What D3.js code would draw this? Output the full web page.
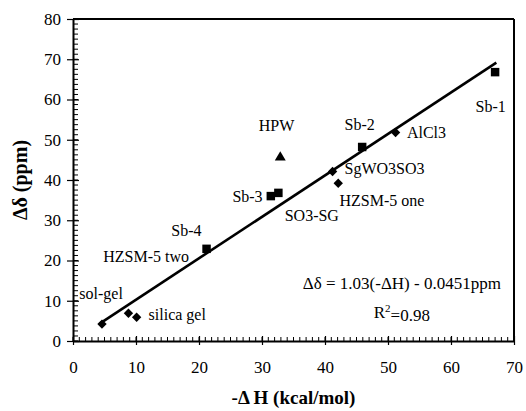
<!DOCTYPE html>
<html>
<head>
<meta charset="utf-8">
<script src="https://cdn.jsdelivr.net/npm/d3@7"></script>
<style>
  body { margin: 0; background: #fff; }
  text { font-family: "Liberation Serif", "DejaVu Serif", serif; fill: #000; }
</style>
</head>
<body>
<div id="chart"></div>
<script>
// data
var squareX = [67.0, 45.9, 31.4, 32.6, 21.2];
var squareY = [66.8, 48.2, 36.0, 36.8, 22.9];
var diamondX = [4.6, 8.8, 10.1, 41.2, 42.1, 51.2];
var diamondY = [4.2, 6.9, 5.9, 42.1, 39.2, 51.8];
var triangleX = [32.9];
var triangleY = [45.6];

// fitted line: dd = 1.03(-dH) - 0.0451
var fitSlope = 1.03, fitIntercept = -0.0451;
var fitRange = [4.3, 67.2];

var xTicks = [0, 10, 20, 30, 40, 50, 60, 70];
var yTicks = [0, 10, 20, 30, 40, 50, 60, 70, 80];

// point labels, anchored in data units
var labelText = ["Sb-1", "Sb-2", "AlCl3", "HPW", "SgWO3SO3", "HZSM-5 one", "SO3-SG", "Sb-3", "Sb-4", "HZSM-5 two", "sol-gel", "silica gel"];
var labelX = [66.3, 45.5, 53.0, 32.3, 43.1, 42.3, 33.6, 25.3, 18.0, 4.8, 1.0, 12.0];
var labelY = [58.4, 53.7, 51.8, 53.5, 42.9, 35.0, 31.3, 35.9, 27.6, 20.9, 11.9, 6.6];
var labelAnchor = ["middle", "middle", "start", "middle", "start", "start", "start", "start", "middle", "start", "start", "start"];

var width = 526, height = 411;
var margin = {top: 19, right: 12, bottom: 70, left: 73};
var w = width - margin.left - margin.right;
var h = height - margin.top - margin.bottom;

var svg = d3.select("#chart")
  .append("svg")
    .attr("width", width)
    .attr("height", height);

var g = svg.append("g")
  .attr("transform", "translate(" + margin.left + "," + margin.top + ")");

var x = d3.scaleLinear().domain([0, 70]).range([0, w]);
var y = d3.scaleLinear().domain([0, 80]).range([h, 0]);

// minor ticks (inside)
g.append("g")
  .selectAll("line")
  .data(d3.range(0, 70.01, 1))
  .enter()
  .append("line")
    .attr("x1", function(d){ return x(d); })
    .attr("x2", function(d){ return x(d); })
    .attr("y1", h)
    .attr("y2", h - 4)
    .attr("stroke", "#000")
    .attr("stroke-width", 1);

g.append("g")
  .selectAll("line")
  .data(d3.range(0, 80.01, 1.25))
  .enter()
  .append("line")
    .attr("x1", 0)
    .attr("x2", 5)
    .attr("y1", function(d){ return y(d); })
    .attr("y2", function(d){ return y(d); })
    .attr("stroke", "#000")
    .attr("stroke-width", 1);

// x axis
var xAxis = g.append("g")
  .attr("transform", "translate(0," + h + ")")
  .call(d3.axisBottom(x).tickValues(xTicks).tickSize(4).tickSizeOuter(0).tickPadding(16));
xAxis.selectAll(".tick line").attr("y1", -5).attr("stroke-width", 1.2);
xAxis.select(".domain").attr("stroke-width", 2);
xAxis.selectAll("text").style("font-size", "17px");

// y axis
var yAxis = g.append("g")
  .call(d3.axisLeft(y).tickValues(yTicks).tickSize(6).tickSizeOuter(0).tickPadding(6));
yAxis.selectAll(".tick line").attr("x1", 6).attr("stroke-width", 1.2);
yAxis.select(".domain").attr("stroke-width", 2);
yAxis.selectAll("text").style("font-size", "17px");

// top and right frame
g.append("line")
  .attr("x1", 0).attr("x2", w)
  .attr("y1", y(80)).attr("y2", y(80))
  .attr("stroke", "#000").attr("stroke-width", 2);
g.append("line")
  .attr("x1", x(70)).attr("x2", x(70))
  .attr("y1", y(80)).attr("y2", h)
  .attr("stroke", "#000").attr("stroke-width", 2);

// fit line
g.append("line")
  .attr("x1", x(fitRange[0]))
  .attr("y1", y(fitSlope * fitRange[0] + fitIntercept))
  .attr("x2", x(fitRange[1]))
  .attr("y2", y(fitSlope * fitRange[1] + fitIntercept))
  .attr("stroke", "#000")
  .attr("stroke-width", 2.6);

// markers
var squares = squareX.map(function(d, i){ return {x: d, y: squareY[i]}; });
var diamonds = diamondX.map(function(d, i){ return {x: d, y: diamondY[i]}; });
var triangles = triangleX.map(function(d, i){ return {x: d, y: triangleY[i]}; });

g.append("g")
  .selectAll("path")
  .data(squares)
  .enter()
  .append("path")
    .attr("d", d3.symbol().type(d3.symbolSquare).size(72))
    .attr("transform", function(d){ return "translate(" + x(d.x) + "," + y(d.y) + ")"; })
    .attr("fill", "#000");

g.append("g")
  .selectAll("path")
  .data(diamonds)
  .enter()
  .append("path")
    .attr("d", d3.symbol().type(d3.symbolSquare).size(44))
    .attr("transform", function(d){ return "translate(" + x(d.x) + "," + y(d.y) + ") rotate(45)"; })
    .attr("fill", "#000");

g.append("g")
  .selectAll("path")
  .data(triangles)
  .enter()
  .append("path")
    .attr("d", d3.symbol().type(d3.symbolTriangle).size(52))
    .attr("transform", function(d){ return "translate(" + x(d.x) + "," + y(d.y) + ")"; })
    .attr("fill", "#000");

// point labels
g.append("g")
  .selectAll("text")
  .data(labelText)
  .enter()
  .append("text")
    .attr("x", function(d, i){ return x(labelX[i]); })
    .attr("y", function(d, i){ return y(labelY[i]); })
    .attr("dy", "0.35em")
    .attr("text-anchor", function(d, i){ return labelAnchor[i]; })
    .style("font-size", "16px")
    .text(function(d){ return d; });

// equation
g.append("text")
  .attr("x", x(52.2))
  .attr("y", y(14.4))
  .attr("dy", "0.35em")
  .attr("text-anchor", "middle")
  .style("font-size", "17px")
  .text("\u0394\u03b4 = 1.03(-\u0394H) - 0.0451ppm");

var r2 = g.append("text")
  .attr("x", x(52.2))
  .attr("y", y(7.2))
  .attr("dy", "0.35em")
  .attr("text-anchor", "middle")
  .style("font-size", "17px");
r2.append("tspan").text("R");
r2.append("tspan").attr("dy", "-0.5em").style("font-size", "11px").text("2");
r2.append("tspan").attr("dy", "0.5em").text("=0.98");

// axis titles
svg.append("text")
  .attr("x", margin.left + w / 2)
  .attr("y", 404)
  .attr("text-anchor", "middle")
  .style("font-size", "19px")
  .style("font-weight", "bold")
  .text("-\u0394 H (kcal/mol)");

svg.append("text")
  .attr("transform", "translate(27," + (margin.top + h / 2) + ") rotate(-90)")
  .attr("text-anchor", "middle")
  .style("font-size", "20px")
  .style("font-weight", "bold")
  .text("\u0394\u03b4 (ppm)");
</script>
</body>
</html>
